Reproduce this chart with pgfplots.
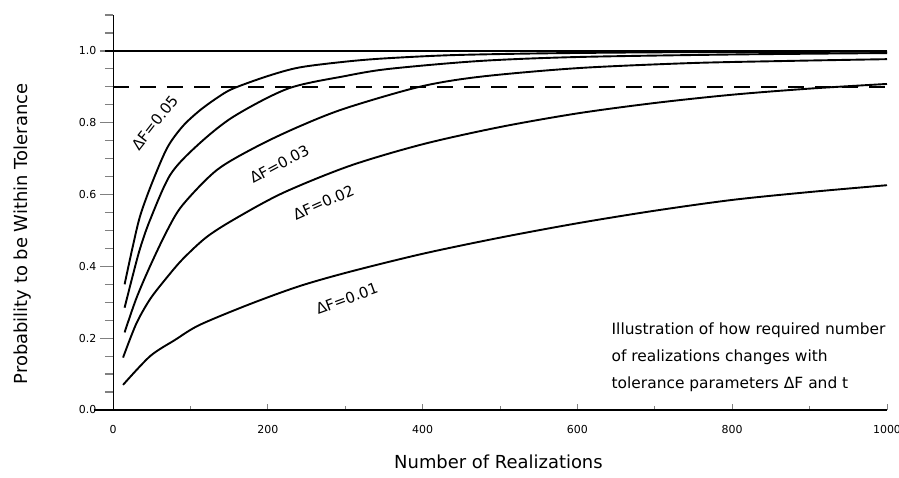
\documentclass[border=0pt]{standalone}
\usepackage{pgfplots}
\pgfplotsset{compat=1.18}
\usepackage{fontspec}
\setmainfont{DejaVu Sans}
\setsansfont{DejaVu Sans}
\begin{document}
\begin{tikzpicture}
\begin{axis}[
  scale only axis,
  width=774bp, height=395bp,
  xmin=0, xmax=1000, ymin=0, ymax=1.1,
  clip=false,
  axis x line=bottom, axis y line=left,
  x axis line style={draw=none},
  y axis line style={-, line width=0.9bp},
  xtick={0,200,400,600,800,1000},
  minor x tick num=1,
  xtick align=inside,
  ytick={0,0.2,0.4,0.6,0.8,1.0},
  minor ytick={0.05,0.1,0.15,0.25,0.3,0.35,0.45,0.5,0.55,0.65,0.7,0.75,0.85,0.9,0.95,1.05,1.1},
  ytick align=outside,
  xtick style={line width=0.9bp, /pgfplots/major tick length=6bp, /pgfplots/minor tick length=4bp},
  ytick style={line width=1.2bp, /pgfplots/major tick length=13bp, /pgfplots/minor tick length=8bp},
  /pgf/number format/assume math mode=true,
  xticklabel style={font=\fontsize{11}{13}\selectfont, yshift=-12bp, /pgf/number format/1000 sep={}},
  yticklabel style={font=\fontsize{11}{13}\selectfont, xshift=-9bp, /pgf/number format/fixed, /pgf/number format/fixed zerofill, /pgf/number format/precision=1},
]
\coordinate (bl) at (rel axis cs:0,0);
% axis line at 0 and reference line at 1.0
\addplot[black, line width=2.3bp] coordinates {(-25,0) (1000,0)};
\addplot[black, line width=2.3bp] coordinates {(-10,1) (1000,1)};
\addplot[black, line width=2bp, dash pattern=on 16bp off 11bp] coordinates {(0,0.9) (1000,0.9)};
% Delta F = 0.05
\addplot[black, line width=1.9bp, smooth] coordinates {
(15,0.35) (25,0.45) (35,0.54) (50,0.63) (70,0.73) (90,0.79) (112,0.834) (135,0.87) (155,0.895) (200,0.93) (241,0.954) (300,0.97) (350,0.979) (435,0.988) (550,0.993) (700,0.996) (850,0.997) (1000,0.998)};
% Delta F = 0.04
\addplot[black, line width=1.9bp, smooth] coordinates {
(15,0.285) (25,0.37) (35,0.45) (48,0.53) (74,0.655) (108,0.735) (155,0.816) (226,0.895) (300,0.93) (357,0.95) (474,0.972) (600,0.983) (800,0.99) (1000,0.994)};
% Delta F = 0.03
\addplot[black, line width=1.9bp, smooth] coordinates {
(15,0.216) (30,0.31) (48,0.401) (70,0.5) (90,0.571) (134,0.668) (186,0.734) (241,0.79) (300,0.84) (396,0.9) (474,0.928) (600,0.952) (745,0.966) (870,0.972) (1000,0.977)};
% Delta F = 0.02
\addplot[black, line width=1.9bp, smooth] coordinates {
(13,0.146) (30,0.24) (48,0.309) (70,0.37) (90,0.42) (120,0.48) (155,0.529) (219,0.604) (306,0.68) (400,0.74) (500,0.788) (600,0.826) (700,0.855) (800,0.878) (900,0.895) (1000,0.908)};
% Delta F = 0.01
\addplot[black, line width=1.9bp, smooth] coordinates {
(13,0.07) (48,0.15) (80,0.195) (112,0.237) (177,0.295) (241,0.345) (306,0.385) (400,0.435) (500,0.48) (600,0.52) (700,0.555) (800,0.585) (900,0.607) (1000,0.626)};
% curve labels
\node[rotate=52, font=\fontsize{15}{17}\selectfont] at (axis cs:54,0.80) {ΔF=0.05};
\node[rotate=28, font=\fontsize{15}{17}\selectfont] at (axis cs:215,0.685) {ΔF=0.03};
\node[rotate=24, font=\fontsize{15}{17}\selectfont] at (axis cs:272,0.578) {ΔF=0.02};
\node[rotate=20, font=\fontsize{15}{17}\selectfont] at (axis cs:302,0.31) {ΔF=0.01};
% annotation
\node[anchor=north west, align=left, inner sep=0pt, font=\fontsize{15.5}{27}\selectfont] at (axis cs:644,0.243)
  {Illustration of how required number\\of realizations changes with\\tolerance parameters ΔF and t};
% axis labels
\node[font=\fontsize{18}{20}\selectfont] at (axis cs:498,-0.145) {Number of Realizations};
\node[rotate=90, font=\fontsize{18}{20}\selectfont] at (axis cs:-117,0.49) {Probability to be Within Tolerance};
\end{axis}
\pgfresetboundingbox
\path (bl) ++(-113bp,-68bp) rectangle ++(899bp,478bp);
\end{tikzpicture}
\end{document}
